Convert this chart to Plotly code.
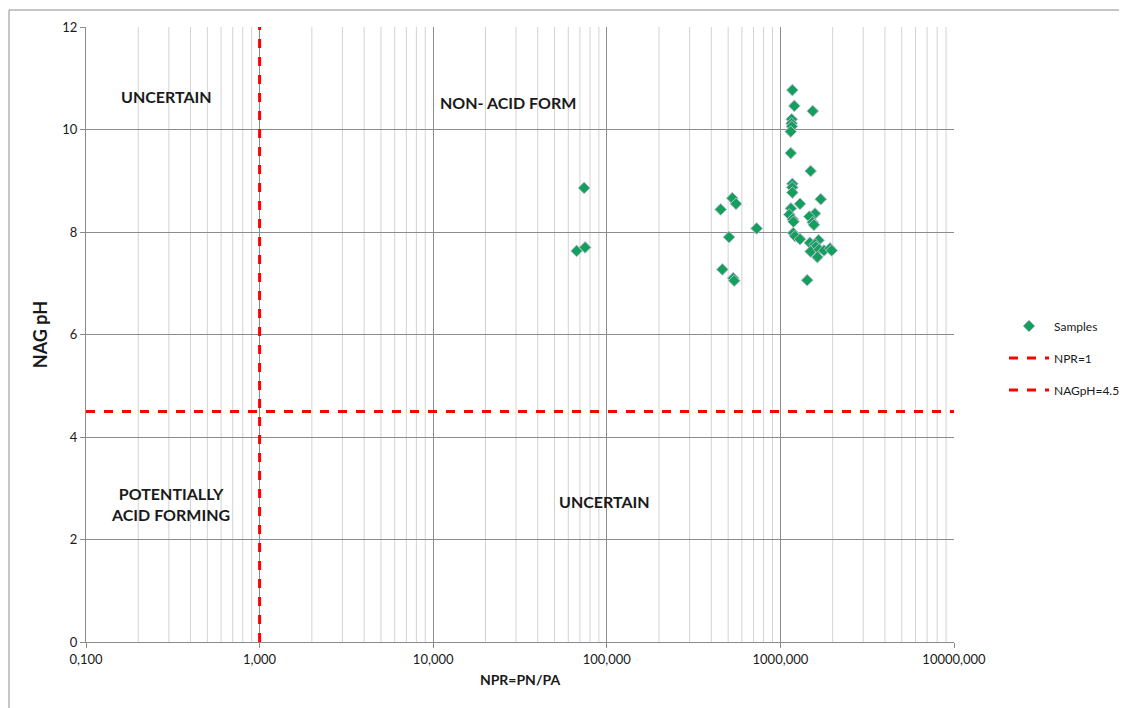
import plotly.graph_objects as go
import math

# NPR values (x) and NAG pH values (y) of samples
npr = [74, 67, 75,
       528, 555, 453, 730, 506, 463, 535, 542,
       1172, 1203, 1535, 1162, 1160, 1165, 1147, 1147, 1493, 1172, 1170,
       1172, 1707, 1297, 1150, 1125, 1177, 1190, 1582, 1468, 1535, 1560,
       1186, 1215, 1297, 1478, 1660, 1582, 1600, 1493, 1670, 1783, 1931, 1975,
       1634, 1427]
nag_ph = [8.86, 7.63, 7.70,
          8.66, 8.55, 8.44, 8.07, 7.90, 7.27, 7.10, 7.05,
          10.77, 10.46, 10.36, 10.20, 10.12, 10.06, 9.96, 9.54, 9.19, 8.94, 8.87,
          8.77, 8.64, 8.55, 8.46, 8.34, 8.25, 8.20, 8.36, 8.30, 8.19, 8.14,
          7.98, 7.92, 7.86, 7.79, 7.84, 7.76, 7.71, 7.62, 7.66, 7.64, 7.68, 7.64,
          7.51, 7.06]

npr_line_x = [1, 1]
npr_line_y = [0, 12]
nag_line_x = [0.1, 10000]
nag_line_y = [4.5, 4.5]

x_tickvals = [0.1, 1, 10, 100, 1000, 10000]
x_ticktext = ["0,100", "1,000", "10,000", "100,000", "1000,000", "10000,000"]
y_tickvals = [0, 2, 4, 6, 8, 10, 12]

FONT = "Lato, 'Open Sans', sans-serif"

fig = go.Figure()
fig.add_trace(go.Scatter(
    x=npr, y=nag_ph, mode="markers", name="Samples", legendgroup="a",
    marker=dict(symbol="diamond", size=9, color="#12A05A",
                line=dict(color="#B8B8D8", width=1))))
fig.add_trace(go.Scatter(
    x=npr_line_x, y=npr_line_y, mode="lines", name="NPR=1", legendgroup="b",
    line=dict(color="#FF0000", width=3, dash="dash")))
fig.add_trace(go.Scatter(
    x=nag_line_x, y=nag_line_y, mode="lines", name="NAGpH=4.5", legendgroup="c",
    line=dict(color="#FF0000", width=3, dash="dash")))

# minor grid lines on log axis
shapes = []
for d in range(-1, 4):
    for m in range(2, 10):
        v = m * 10 ** d
        shapes.append(dict(type="line", xref="x", yref="paper",
                           x0=v, x1=v, y0=0, y1=1,
                           line=dict(color="#D3D3D3", width=1), layer="below"))

# page is offset by the 8px body margin
W, H = 1119, 700
ml, mr, mt, mb = 78, 173, 19, 66
pw, ph = W - ml - mr, H - mt - mb
# outer chart border (left and top visible)
shapes.append(dict(type="rect", xref="paper", yref="paper",
                   x0=(1 - ml) / pw, x1=(W + 20 - ml) / pw,
                   y0=-(H + 20 - mt - ph) / ph, y1=1 + (mt - 2) / ph,
                   line=dict(color="#8C8C8C", width=1), layer="below"))

ann_font = dict(family=FONT, size=16, color="#1a1a1a")
annotations = [
    dict(x=math.log10(0.289), y=10.65, text="<b>UNCERTAIN</b>", showarrow=False, font=ann_font),
    dict(x=math.log10(27.0), y=10.52, text="<b>NON- ACID FORM</b>", showarrow=False, font=ann_font),
    dict(x=math.log10(0.305), y=2.69, text="<b>POTENTIALLY<br>ACID FORMING</b>", showarrow=False, font=ann_font),
    dict(x=math.log10(96.4), y=2.75, text="<b>UNCERTAIN</b>", showarrow=False, font=ann_font),
]

fig.update_layout(
    width=W, height=H,
    margin=dict(l=ml, r=mr, t=mt, b=mb, autoexpand=False),
    paper_bgcolor="white", plot_bgcolor="white",
    font=dict(family=FONT, size=13, color="#1a1a1a"),
    showlegend=True,
    legend=dict(x=(996 - ml) / pw, y=(634 - 350) / ph, xanchor="left", yanchor="middle",
                font=dict(family=FONT, size=12), tracegroupgap=13,
                itemwidth=40, bgcolor="rgba(0,0,0,0)"),
    shapes=shapes,
    annotations=annotations,
    xaxis=dict(type="log", range=[-1, 4], tickvals=x_tickvals, ticktext=x_ticktext,
               showgrid=True, gridcolor="#8C8C8C", gridwidth=1,
               showline=True, linecolor="#8C8C8C", linewidth=1,
               ticks="outside", ticklen=5, tickcolor="#8C8C8C",
               zeroline=False, mirror=False, automargin=False,
               title=dict(text="<b>NPR=PN/PA</b>", font=dict(family=FONT, size=14), standoff=9),
               tickfont=dict(family=FONT, size=13)),
    yaxis=dict(range=[0, 12], tickvals=y_tickvals,
               showgrid=True, gridcolor="#8C8C8C", gridwidth=1,
               showline=True, linecolor="#8C8C8C", linewidth=1,
               ticks="outside", ticklen=5, tickcolor="#8C8C8C",
               zeroline=False, automargin=False,
               title=dict(text="<b>NAG pH</b>", font=dict(family=FONT, size=18), standoff=10),
               tickfont=dict(family=FONT, size=13)),
)

fig.write_html("out.html")
